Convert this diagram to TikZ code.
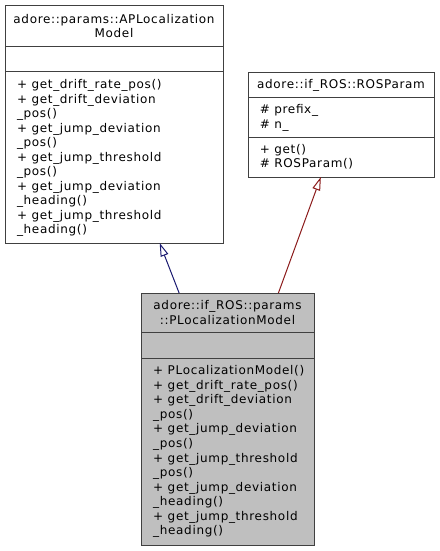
\documentclass[tikz,border=0pt]{standalone}
\usepackage{fontspec}
\setmainfont[LetterSpace=5.6]{DejaVu Sans}
\usetikzlibrary{arrows.meta,fit}

\definecolor{boxline}{RGB}{64,64,64}
\definecolor{boxfill}{RGB}{191,191,191}
\definecolor{edgeblue}{RGB}{25,25,112}
\definecolor{edgered}{RGB}{139,26,26}

\tikzset{every picture/.style={line width=0.75pt}}
\tikzset{
  classbox/.style={draw=boxline, inner sep=0pt, outer sep=0pt},
  umltext/.style={font=\fontsize{9pt}{10.9pt}\selectfont, inner sep=0pt},
  inherit/.style={-{Triangle[open, length=10pt, width=6pt]}},
}

\begin{document}
\begin{tikzpicture}[x=0.75pt,y=0.75pt,yscale=-1,xscale=1]
\useasboundingbox (0,0) rectangle (440,551);

%Class: APLocalizationModel
\node (apModel) [classbox, fit={(5,5) (223,243)}] {};
\draw [boxline] (5,46) -- (223,46) ;
\draw [boxline] (5,71) -- (223,71) ;
%Class: ROSParam
\node (rosParam) [classbox, fit={(248,72) (434,177)}] {};
\draw [boxline] (248,97) -- (434,97) ;
\draw [boxline] (248,137) -- (434,137) ;
%Class: PLocalizationModel
\node (pLocModel) [classbox, fill=boxfill, fit={(141,293) (314,545)}] {};
\draw [boxline] (141,332) -- (314,332) ;
\draw [boxline] (141,358) -- (314,358) ;

%Inheritance
\draw [inherit, edgeblue] (pLocModel.111) -- (apModel.291.1) ;
\draw [inherit, edgered] (pLocModel.68.6) -- (rosParam.249.2) ;

% Text Node
\draw (114,13.5) node (apTitle) [umltext, anchor=north, align=center] {adore::params::APLocalization\\Model};
% Text Node
\draw (16.5,79) node (apMethods) [umltext, anchor=north west, align=left] {+ get\_drift\_rate\_pos()\\+ get\_drift\_deviation\\\_pos()\\+ get\_jump\_deviation\\\_pos()\\+ get\_jump\_threshold\\\_pos()\\+ get\_jump\_deviation\\\_heading()\\+ get\_jump\_threshold\\\_heading()};
% Text Node
\draw (341,78.6) node (rosTitle) [umltext, anchor=north] {adore::if\_ROS::ROSParam};
% Text Node
\draw (259.3,104.2) node (rosAttrs) [umltext, anchor=north west, align=left] {\# prefix\_\\\# n\_};
% Text Node
\draw (259.3,143.6) node (rosMethods) [umltext, anchor=north west, align=left] {+ get()\\\# ROSParam()};
% Text Node
\draw (227.5,300) node (pLocTitle) [umltext, anchor=north, align=center] {adore::if\_ROS::params\\::PLocalizationModel};
% Text Node
\draw (152.7,365.2) node (pLocMethods) [umltext, anchor=north west, align=left] {+ PLocalizationModel()\\+ get\_drift\_rate\_pos()\\+ get\_drift\_deviation\\\_pos()\\+ get\_jump\_deviation\\\_pos()\\+ get\_jump\_threshold\\\_pos()\\+ get\_jump\_deviation\\\_heading()\\+ get\_jump\_threshold\\\_heading()};

\end{tikzpicture}
\end{document}
